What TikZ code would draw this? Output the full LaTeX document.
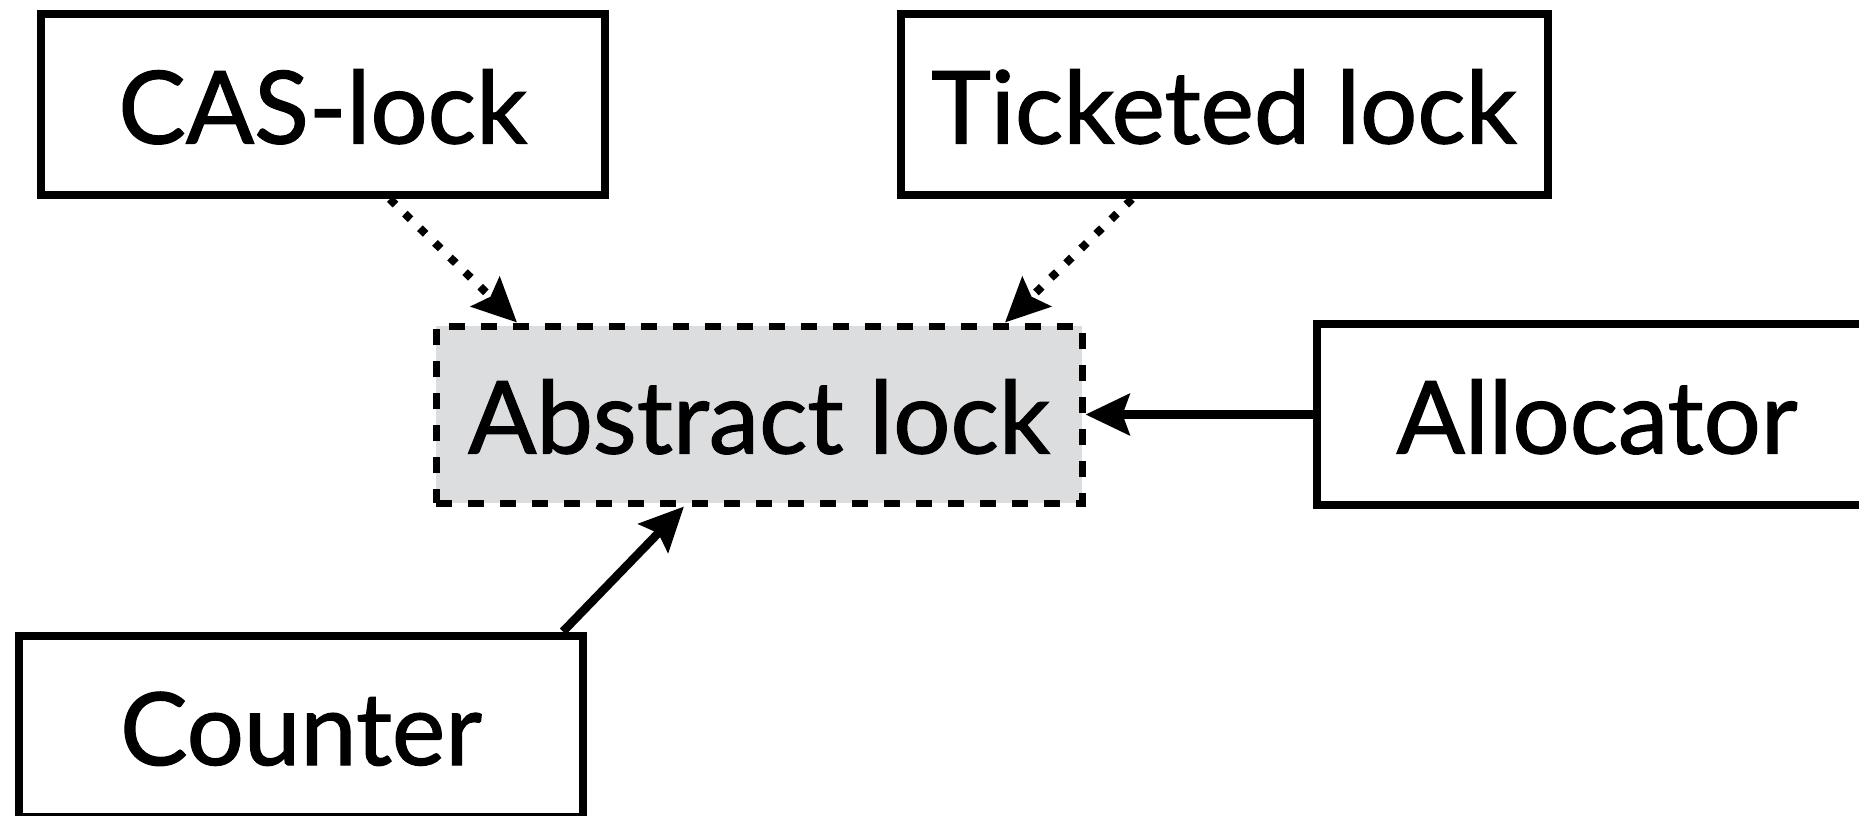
\documentclass[tikz,border=0pt]{standalone}
\usepackage{fontspec}
\setmainfont{Lato}[FakeBold=1.2]
\usetikzlibrary{arrows.meta,calc}
\definecolor{absfill}{RGB}{220,221,223}
\begin{document}
\begin{tikzpicture}[x=0.5pt,y=-0.5pt,
  box/.style={draw=black, line width=4pt, fill=white, rectangle, inner sep=0pt,
    minimum width=281.75pt, minimum height=90.5pt,
    font=\fontsize{50.5}{56}\selectfont, text height=39pt, text depth=0pt},
  absbox/.style={box, fill=absfill, line width=3.5pt, dash pattern=on 8pt off 8pt,
    minimum width=323pt, minimum height=88.5pt},
  solidarrow/.style={line width=4.25pt, -{Stealth[length=22pt,width=20.5pt,inset=3.5pt]}},
  dotarrow/.style={solidarrow, line width=4pt, dash pattern=on 4pt off 6.5pt}
]
\useasboundingbox (0,0) rectangle (1859,815);
\clip (0,0) rectangle (1859,815);
\node[box] (cas) at (322.75,104.5) {CAS-lock};
\node[box, minimum width=323.5pt] (tick) at (1224,104.5) {Ticketed lock};
\node[absbox] (abs) at (759,414.5) {Abstract lock};
\node[box, minimum width=280pt] (alloc) at (1597,414.5) {Allocator};
\node[box] (cnt) at (301,726) {Counter};
\draw[dotarrow] ($(cas.south)+(67,0)$) -- ($(abs.north)+(-242,0)$);
\draw[dotarrow] ($(tick.south)+(-92,0)$) -- ($(abs.north)+(246,0)$);
\draw[solidarrow] (alloc.west) -- (abs.east);
\draw[solidarrow] ($(cnt.north)+(262,0)$) -- ($(abs.south)+(-75,0)$);
\end{tikzpicture}
\end{document}
